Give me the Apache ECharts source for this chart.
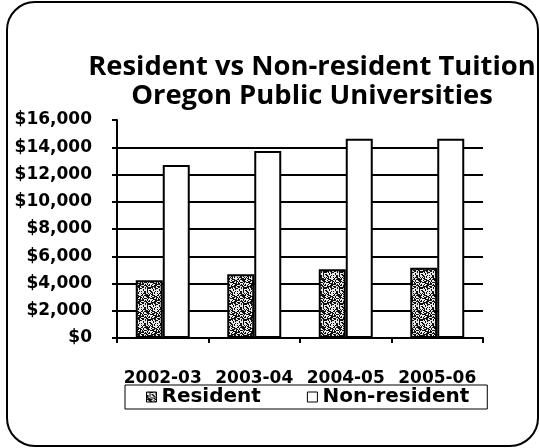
<!DOCTYPE html>
<html lang="en">
<head>
<meta charset="UTF-8">
<title>Resident vs Non-resident Tuition</title>
<script src="https://cdn.jsdelivr.net/npm/echarts@6/dist/echarts.min.js"></script>
<style>
    html, body { margin: 0; background: #fff; }
    #main { width: 540px; height: 448px; }
</style>
</head>
<body>
<div id="main"></div>
<script>
    // data
    var years = ['2002-03', '2003-04', '2004-05', '2005-06'];
    var resident = [4230, 4670, 5040, 5160];
    var nonResident = [12700, 13720, 14620, 14620];
    var yMax = 16000;
    var yStep = 2000;

    // stippled fill like the printed resident bars
    function stipple() {
        var c = document.createElement('canvas');
        c.width = 16;
        c.height = 16;
        var ctx = c.getContext('2d');
        ctx.fillStyle = '#e8e8e8';
        ctx.fillRect(0, 0, 16, 16);
        ctx.fillStyle = '#111';
        var s = 7;
        for (var y = 0; y < 16; y++) {
            for (var x = 0; x < 16; x++) {
                s = (s * 1103515245 + 12345) & 0x7fffffff;
                if (((s >> 16) % 100) < 48) ctx.fillRect(x, y, 1, 1);
            }
        }
        return c;
    }

    var font = 'DejaVu Sans';
    var myChart = echarts.init(document.getElementById('main'));

    var option = {
        animation: false,
        backgroundColor: '#fff',
        title: {
            text: 'Resident vs Non-resident Tuition\nOregon Public Universities',
            left: 312,
            top: 53,
            padding: 0,
            textAlign: 'center',
            textStyle: {
                fontFamily: 'Open Sans',
                fontWeight: 'bold',
                fontSize: 27.4,
                lineHeight: 29,
                color: '#000'
            }
        },
        grid: {
            left: 117,
            right: 57,
            top: 120,
            bottom: 110
        },
        legend: {
            left: 125,
            top: 385,
            padding: [2, 18, 2, 21],
            borderColor: '#000',
            borderWidth: 1,
            itemGap: 46,
            itemWidth: 10,
            itemHeight: 10,
            icon: 'rect',
            itemStyle: {borderWidth: 1},
            textStyle: {
                fontFamily: font,
                fontWeight: 'bold',
                fontSize: 20,
                color: '#000'
            },
            data: ['Resident', 'Non-resident']
        },
        xAxis: {
            type: 'category',
            data: years,
            axisLine: {lineStyle: {color: '#000', width: 2}},
            axisTick: {show: true, length: 5, lineStyle: {color: '#000', width: 2}},
            axisLabel: {
                interval: 0,
                margin: 32,
                fontFamily: font,
                fontWeight: 'bold',
                fontSize: 17,
                color: '#000'
            }
        },
        yAxis: {
            type: 'value',
            min: 0,
            max: yMax,
            interval: yStep,
            axisLine: {show: true, lineStyle: {color: '#000', width: 2}},
            axisTick: {show: true, length: 5, lineStyle: {color: '#000', width: 2}},
            axisLabel: {
                margin: 25,
                fontFamily: font,
                fontWeight: 'bold',
                fontSize: 17,
                color: '#000',
                formatter: function (v) {
                    return '$' + v.toLocaleString('en-US');
                }
            },
            splitLine: {
                show: true,
                showMaxLine: false,
                lineStyle: {color: '#000', width: 2}
            }
        },
        series: [
            {
                name: 'Resident',
                type: 'bar',
                data: resident,
                barWidth: 27,
                barGap: '0%',
                itemStyle: {
                    color: {image: stipple(), repeat: 'repeat'},
                    borderColor: '#000',
                    borderWidth: 2
                }
            },
            {
                name: 'Non-resident',
                type: 'bar',
                data: nonResident,
                barWidth: 27,
                itemStyle: {
                    color: '#fff',
                    borderColor: '#000',
                    borderWidth: 2
                }
            }
        ],
        graphic: [
            {
                type: 'rect',
                shape: {x: 7, y: 2, width: 531, height: 444, r: 28},
                style: {fill: 'none', stroke: '#000', lineWidth: 2},
                silent: true
            }
        ]
    };

    myChart.setOption(option);
    window.addEventListener('resize', function () {
        myChart.resize();
    });
</script>
</body>
</html>
